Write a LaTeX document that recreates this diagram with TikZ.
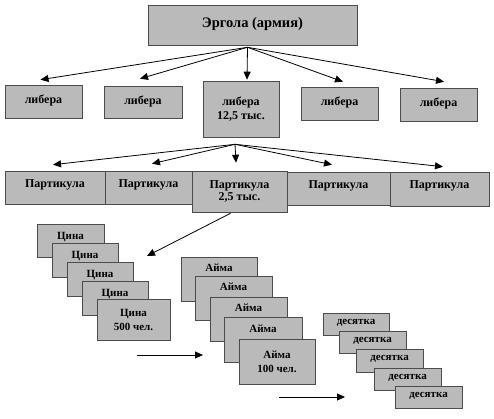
\documentclass[tikz,border=0pt]{standalone}
\usepackage{fontspec}
\setmainfont{Liberation Serif}
\usetikzlibrary{arrows.meta}
\definecolor{kastengrau}{RGB}{186,186,186}
\begin{document}
\begin{tikzpicture}[x=1pt,y=-1pt,>={Triangle[length=8pt,width=7pt]},line width=0.8pt,
	kasten/.style={draw=black!70,line width=0.6pt,fill=kastengrau,inner sep=1pt,align=center},
	gross/.style={font=\fontsize{14.5}{16}\selectfont\bfseries},
	mittel/.style={font=\fontsize{12}{14.5}\selectfont\bfseries},
	klein/.style={font=\fontsize{11}{14}\selectfont\bfseries}]
\useasboundingbox (0,0) rectangle (494,419);
\def\kasten#1#2#3#4#5#6#7{
	\node[kasten,#6,minimum width=#4pt,minimum height=#5pt] (#1) at (#2,#3) {#7};
}
% Ergola
\kasten{ergola}{252.5}{25}{209}{40}{gross,text depth=5pt}{Эргола (армия)}
% libera
\kasten{l1}{43.5}{101.5}{77}{33}{mittel,text depth=4pt}{либера}
\kasten{l2}{143}{102}{78}{32}{mittel,text depth=4pt}{либера}
\kasten{l3}{241}{109}{76}{56}{mittel}{либера\\12,5 тыс.}
\kasten{l4}{339.5}{103.5}{77}{33}{mittel,text depth=4pt}{либера}
\kasten{l5}{438.5}{104.5}{77}{33}{mittel,text depth=4pt}{либера}
% Partikula
\kasten{p1}{55}{187.5}{100}{33}{mittel,text depth=8pt}{Партикула}
\kasten{p2}{148.5}{187.5}{87}{33}{mittel,text depth=8pt}{Партикула}
\kasten{p4}{338.5}{188.5}{103}{33}{mittel,text depth=8pt}{Партикула}
\kasten{p5}{439.5}{189}{99}{34}{mittel,text depth=8pt}{Партикула}
\kasten{p3}{239.5}{191.5}{95}{41}{mittel,font=\fontsize{12}{12}\selectfont\bfseries}{Партикула\\2,5 тыс.}
% Cina
\kasten{c1}{70.5}{240.5}{67}{33}{klein,text depth=10pt}{Цина}
\kasten{c2}{85}{260}{66}{34}{klein,text depth=10pt}{Цина}
\kasten{c3}{100}{279}{66}{34}{klein,text depth=10pt}{Цина}
\kasten{c4}{115}{298}{66}{34}{klein,text depth=10pt}{Цина}
\kasten{c5}{133.5}{319.5}{73}{41}{klein}{Цина\\500 чел.}
% Ajma
\kasten{a1}{219}{279}{76}{44}{klein,text depth=22pt}{Айма}
\kasten{a2}{233.5}{298}{77}{44}{klein,text depth=22pt}{Айма}
\kasten{a3}{248.5}{319}{77}{44}{klein,text depth=22pt}{Айма}
\kasten{a4}{263}{339.5}{78}{45}{klein,text depth=22pt}{Айма}
\kasten{a5}{277}{361.5}{76}{45}{klein}{Айма\\100 чел.}
% desjatka
\kasten{d1}{356}{324}{66}{22}{klein,text depth=5pt}{десятка}
\kasten{d2}{372.5}{342}{67}{22}{klein,text depth=5pt}{десятка}
\kasten{d3}{389.5}{360.5}{67}{23}{klein,text depth=5pt}{десятка}
\kasten{d4}{407.5}{379}{67}{22}{klein,text depth=5pt}{десятка}
\kasten{d5}{428.5}{397}{67}{22}{klein,text depth=5pt}{десятка}
% Pfeile
\coordinate (ergola-s) at ([xshift=-5pt,yshift=-2pt]ergola.south);
\draw[->] (ergola-s) -- ([xshift=-3pt,yshift=5pt]l1.north);
\draw[->] (ergola-s) -- ([xshift=-3pt,yshift=7pt]l2.north);
\draw[->] (ergola-s) -- ([xshift=6pt,yshift=1pt]l3.north);
\draw[->] (ergola-s) -- ([xshift=3.5pt,yshift=5pt]l4.north);
\draw[->] (ergola-s) -- ([xshift=5.5pt,yshift=6pt]l5.north);
\coordinate (l3-s) at ([xshift=-6pt,yshift=-7pt]l3.south);
\draw[->] (l3-s) -- ([xshift=-2pt,yshift=6pt]p1.north);
\draw[->] (l3-s) -- ([xshift=3.5pt,yshift=7pt]p2.north);
\draw[->] (l3-s) -- ([xshift=-3.5pt,yshift=8pt]p3.north);
\draw[->] (l3-s) -- ([xshift=-6.5pt,yshift=7pt]p4.north);
\draw[->] (l3-s) -- ([xshift=3.5pt,yshift=5pt]p5.north);
\coordinate (cina-ziel) at (147,256);
\draw[->] ([xshift=-9pt,yshift=-1pt]p3.south) -- (cina-ziel);
\coordinate (ajma-von) at (137,355);
\coordinate (ajma-ziel) at (203,355);
\draw[->] (ajma-von) -- (ajma-ziel);
\coordinate (des-von) at (279,397);
\coordinate (des-ziel) at (345,397);
\draw[->] (des-von) -- (des-ziel);
\end{tikzpicture}
\end{document}
